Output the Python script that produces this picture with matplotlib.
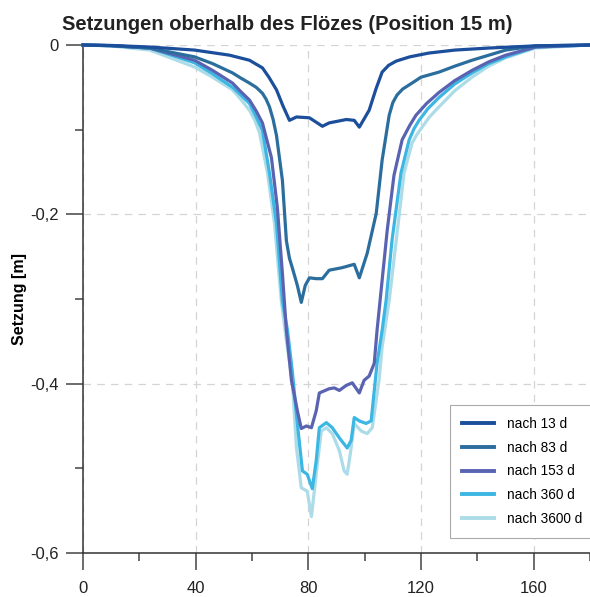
import numpy as np
import matplotlib
matplotlib.use("Agg")
import matplotlib.pyplot as plt
from matplotlib.ticker import MultipleLocator, FuncFormatter

plt.rcParams['font.family'] = ['Liberation Sans', 'DejaVu Sans']

# Setzungen oberhalb des Flözes
x_13 = [0, 10, 23.7, 39.6, 52.0, 59.1, 63.7, 66.0, 68.7, 71.0, 73.3, 75.8, 80.4,
        85.0, 87.4, 93.5, 96.3, 98.1, 101.6, 104.0, 106.2, 108.5, 111.2, 116.0,
        122.8, 132, 144, 160.7, 180]
y_13 = [0, -0.0005, -0.0024, -0.006, -0.012, -0.018, -0.027, -0.038, -0.053, -0.072,
        -0.089, -0.085, -0.086, -0.096, -0.092, -0.088, -0.089, -0.097, -0.077,
        -0.052, -0.032, -0.024, -0.019, -0.014, -0.0095, -0.006, -0.0036, -0.001, 0]

x_83 = [0, 10, 23.7, 39.6, 46, 53.1, 56, 59.1, 61.5, 63.7, 65.0, 66.2, 67.5, 68.7,
        70.8, 72.2, 73.3, 74.3, 76.1, 77.5, 78.9, 80.4, 82.8, 85.0, 87.4, 92.0,
        96.3, 98.1, 100.9, 104.1, 106.2, 108.7, 110.0, 111.5, 113.5, 116.8, 120,
        126.4, 132, 138.1, 150.1, 160.7, 180]
y_83 = [0, -0.0008, -0.0036, -0.014, -0.022, -0.033, -0.039, -0.045, -0.050, -0.057,
        -0.064, -0.073, -0.088, -0.107, -0.160, -0.231, -0.252, -0.263, -0.284,
        -0.304, -0.284, -0.275, -0.276, -0.276, -0.266, -0.263, -0.259, -0.275,
        -0.246, -0.199, -0.136, -0.083, -0.068, -0.059, -0.052, -0.045, -0.038,
        -0.032, -0.025, -0.018, -0.006, -0.001, 0]

x_153 = [0, 10, 23.7, 39.6, 46, 53.1, 56, 59.1, 61.5, 63.7, 66.9, 69.0, 70.8, 72.2,
         74.0, 76.1, 77.5, 79.3, 81.1, 82.8, 83.9, 87.4, 89.2, 91.0, 93.5, 95.6,
         98.1, 99.8, 101.6, 103.4, 104.4, 106.2, 108.0, 110.4, 113.3, 116.0,
         118.2, 122, 126.4, 132, 138.1, 144, 150.1, 160.7, 180]
y_153 = [0, -0.0008, -0.0036, -0.018, -0.030, -0.045, -0.055, -0.065, -0.078, -0.092,
         -0.133, -0.192, -0.270, -0.337, -0.396, -0.432, -0.453, -0.450, -0.452,
         -0.432, -0.411, -0.406, -0.405, -0.408, -0.402, -0.399, -0.411, -0.396,
         -0.391, -0.376, -0.337, -0.278, -0.219, -0.154, -0.112, -0.095, -0.083,
         -0.069, -0.056, -0.042, -0.030, -0.020, -0.012, -0.0024, 0]

x_360 = [0, 10, 23.7, 39.6, 46, 53.1, 56, 59.1, 61.5, 63.7, 66.2, 68.7, 70.8, 72.6,
         74.3, 76.1, 77.9, 79.6, 81.4, 82.8, 83.9, 86.4, 88.5, 91.0, 93.8, 95.2,
         96.3, 98.1, 100.5, 102.3, 104.4, 106.2, 107.6, 109.7, 112.9, 115.8,
         117.5, 119.3, 122.5, 126.4, 132, 138.1, 144, 150.1, 160.7, 180]
y_360 = [0, -0.0008, -0.0036, -0.021, -0.034, -0.050, -0.059, -0.069, -0.085, -0.101,
         -0.151, -0.211, -0.302, -0.337, -0.385, -0.447, -0.503, -0.507, -0.524,
         -0.491, -0.452, -0.446, -0.452, -0.464, -0.476, -0.467, -0.440, -0.444,
         -0.447, -0.444, -0.376, -0.337, -0.302, -0.231, -0.151, -0.112, -0.099,
         -0.089, -0.075, -0.062, -0.046, -0.033, -0.022, -0.014, -0.0024, 0]

x_3600 = [0, 10, 23.7, 39.6, 46, 53.1, 56, 59.1, 61.0, 62.7, 65.5, 68.0, 70.4, 72.2,
          74.3, 75.8, 77.5, 79.6, 81.1, 83.2, 84.6, 86.4, 88.5, 91.0, 92.7, 93.8,
          95.2, 96.3, 98.8, 100.9, 102.7, 105.1, 106.2, 108.7, 111.2, 114.0,
          116.8, 118.5, 120.4, 123, 126.4, 132, 138.1, 144, 150.1, 160.7, 180]
y_3600 = [0, -0.0012, -0.006, -0.026, -0.038, -0.053, -0.064, -0.077, -0.089, -0.104,
          -0.151, -0.211, -0.302, -0.349, -0.396, -0.476, -0.523, -0.527, -0.557,
          -0.495, -0.456, -0.452, -0.459, -0.479, -0.503, -0.507, -0.476, -0.447,
          -0.456, -0.459, -0.452, -0.396, -0.357, -0.302, -0.231, -0.151, -0.116,
          -0.106, -0.097, -0.085, -0.073, -0.054, -0.038, -0.025, -0.015, -0.0036, 0]

labels = ['nach 13 d', 'nach 83 d', 'nach 153 d', 'nach 360 d', 'nach 3600 d']
colors = ['#1b4e9b', '#2b6e9e', '#5a63b1', '#3cb6e3', '#abdce8']

series = [(x_13, y_13), (x_83, y_83), (x_153, y_153), (x_360, y_360), (x_3600, y_3600)]

fig = plt.figure(figsize=(5.9, 5.97), dpi=100)
ax = fig.add_axes([83 / 590, 1 - 553 / 597, 507 / 590, 508 / 597])

for i, (xs, ys) in enumerate(series):
    ax.plot(xs, ys, color=colors[i], lw=2.3, label=labels[i],
            zorder=10 - i, clip_on=False, solid_joinstyle='round')

ax.set_xlim(0, 180)
ax.set_ylim(-0.6, 0)

ax.xaxis.set_major_locator(MultipleLocator(40))
ax.xaxis.set_minor_locator(MultipleLocator(20))
ax.yaxis.set_major_locator(MultipleLocator(0.2))
ax.yaxis.set_minor_locator(MultipleLocator(0.1))
ax.yaxis.set_major_formatter(FuncFormatter(
    lambda v, p: '0' if abs(v) < 1e-9 else ('%.1f' % v).replace('.', ',')))

ax.tick_params(which='major', direction='out', length=12.5, width=1.1,
               color='#444444', labelsize=12, labelcolor='#222222', pad=5)
ax.tick_params(which='minor', direction='out', length=6, width=1.1, color='#444444')
ax.tick_params(axis='x', which='major', pad=8)

for s in ['top', 'right']:
    ax.spines[s].set_visible(False)
for s in ['left', 'bottom']:
    ax.spines[s].set_linewidth(1.1)
    ax.spines[s].set_color('#333333')

ax.grid(True, which='major', color='#d4d4d4', lw=0.9, ls=(0, (6, 5)))
ax.set_axisbelow(True)

ax.set_ylabel('Setzung [m]', fontsize=11.5, fontweight='bold', labelpad=2.5)
fig.text(62 / 590, 1 - 25 / 597, 'Setzungen oberhalb des Flözes (Position 15 m)',
         fontsize=14.5, fontweight='bold', color='#222222', ha='left', va='center')

leg = ax.legend(loc='upper left', bbox_to_anchor=(0.724, 0.291), borderaxespad=0,
                fontsize=9.8, handlelength=2.35, handletextpad=1.0, labelspacing=0.72,
                fancybox=False, framealpha=1, edgecolor='#aaaaaa',
                borderpad=0.85)
leg.get_frame().set_linewidth(0.8)
for h in leg.get_lines():
    h.set_linewidth(2.8)
leg.set_zorder(20)

fig.savefig('out.png', dpi=100)
